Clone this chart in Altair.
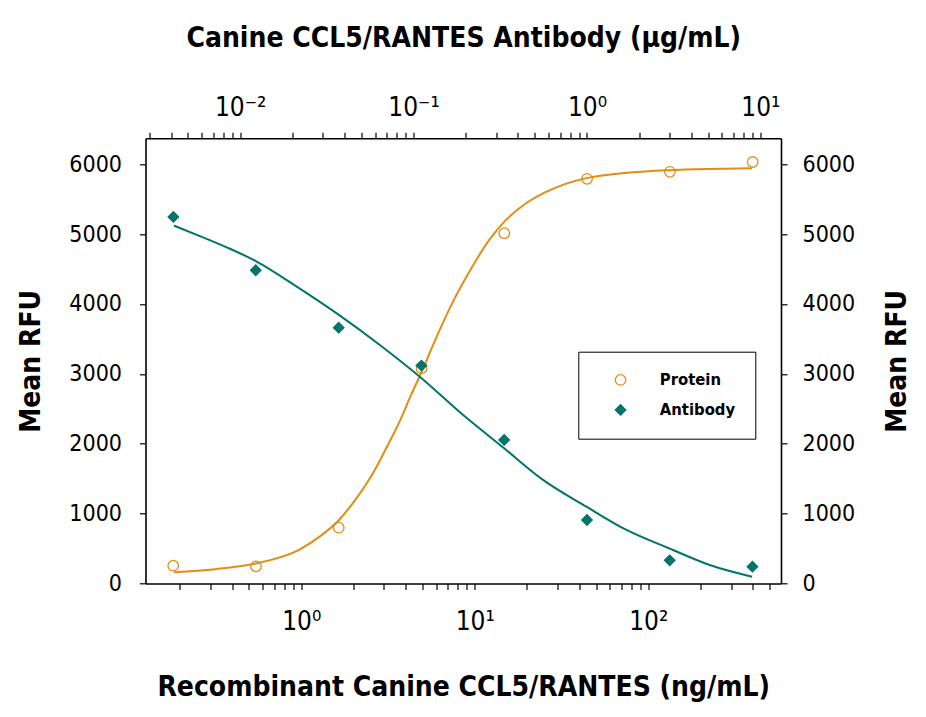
import altair as alt
import pandas as pd

# ---- data ----
protein_conc = [0.183, 0.549, 1.646, 4.94, 14.8, 44.4, 133.3, 400.0]
protein_rfu = [255, 246, 799, 3080, 5012, 5790, 5890, 6031]
antibody_conc = [0.00412, 0.0123, 0.037, 0.111, 0.333, 1.0, 3.0, 9.0]
antibody_rfu = [5245, 4482, 3661, 3118, 2054, 909, 332, 241]

protein_curve_conc = [0.185, 0.319, 0.554, 0.984, 1.283, 1.65, 2.07, 2.59, 3.12, 3.71,
                      4.29, 4.95, 5.61, 6.31, 7.70, 9.40, 12.25, 14.8, 19.5, 25.4,
                      33.1, 44.2, 78.5, 132, 227, 396]
protein_curve_rfu = [160, 205, 289, 490, 674, 909, 1211, 1577, 1956, 2330,
                     2694, 3030, 3348, 3640, 4090, 4480, 4930, 5178, 5430, 5595,
                     5715, 5800, 5880, 5914, 5932, 5942]
antibody_curve_conc = [0.00415, 0.00641, 0.00873, 0.01245, 0.0212, 0.0371, 0.0639, 0.1112,
                       0.185, 0.333, 0.558, 0.993, 1.69, 2.97, 5.10, 8.96]
antibody_curve_rfu = [5121, 4930, 4790, 4606, 4248, 3843, 3413, 2937,
                      2450, 1935, 1482, 1099, 766, 504, 265, 97]

series_names = ["Protein", "Antibody"]
bottom_ticks = [0.2, 0.3, 0.4, 0.5, 0.6, 0.7, 0.8, 0.9,
                1, 2, 3, 4, 5, 6, 7, 8, 9,
                10, 20, 30, 40, 50, 60, 70, 80, 90,
                100, 200, 300, 400, 500]
top_ticks = [0.003, 0.004, 0.005, 0.006, 0.007, 0.008, 0.009,
             0.01, 0.02, 0.03, 0.04, 0.05, 0.06, 0.07, 0.08, 0.09,
             0.1, 0.2, 0.3, 0.4, 0.5, 0.6, 0.7, 0.8, 0.9,
             1, 2, 3, 4, 5, 6, 7, 8, 9, 10]
y_ticks = [0, 1000, 2000, 3000, 4000, 5000, 6000]

bottom_domain = [0.1267, 582]
top_domain = [0.002845, 13.15]
y_domain = [0, 6370]

ORANGE = "#E38D14"
TEAL = "#00756C"
FONT = "'Liberation Sans Narrow', 'DejaVu Sans Condensed', 'Roboto Condensed', 'Noto Sans', sans-serif"

W, H = 635.5, 445.2

dfp = pd.DataFrame({"conc": protein_conc, "rfu": protein_rfu, "series": "Protein"})
dfa = pd.DataFrame({"conc": antibody_conc, "rfu": antibody_rfu, "series": "Antibody"})
dfpc = pd.DataFrame({"conc": protein_curve_conc, "rfu": protein_curve_rfu})
dfac = pd.DataFrame({"conc": antibody_curve_conc, "rfu": antibody_curve_rfu})

common_axis = dict(grid=False, tickSize=6, tickWidth=1.2, tickColor="black",
                   domainColor="black", domainWidth=1.6,
                   labelFont=FONT, labelColor="black",
                   titleFont=FONT, titleFontSize=28, titleFontWeight="bold",
                   titleColor="black", labelOverlap=False, labelFlush=False)

bottom_axis = alt.Axis(orient="bottom", values=bottom_ticks, labelFontSize=26,
                       labelExpr="datum.value == 1 ? '10⁰' : datum.value == 10 ? '10¹' : datum.value == 100 ? '10²' : ''",
                       title="Recombinant Canine CCL5/RANTES (ng/mL)",
                       labelPadding=19, titleX=W / 2, titleY=104, titleAlign="center",
                       titleBaseline="middle", **common_axis)
top_axis = alt.Axis(orient="top", values=top_ticks, labelFontSize=26,
                    labelExpr="datum.value == 0.01 ? '10⁻²' : datum.value == 0.1 ? '10⁻¹' : datum.value == 1 ? '10⁰' : datum.value == 10 ? '10¹' : ''",
                    title="Canine CCL5/RANTES Antibody (μg/mL)",
                    labelPadding=12, titleX=W / 2, titleY=-100, titleAlign="center",
                    titleBaseline="middle", **common_axis)
left_axis = alt.Axis(orient="left", values=y_ticks, title="Mean RFU", format="d",
                     labelFontSize=23,
                     labelPadding=18, titleX=-114, titleY=H / 2, titleAngle=270,
                     titleAlign="center", titleBaseline="middle", **common_axis)
right_axis = alt.Axis(orient="right", values=y_ticks, title="Mean RFU", format="d",
                      labelFontSize=23,
                      labelPadding=15, titleX=116, titleY=H / 2, titleAngle=270,
                      titleAlign="center", titleBaseline="middle", **common_axis)

xs_bottom = alt.Scale(type="log", domain=bottom_domain, nice=False)
xs_top = alt.Scale(type="log", domain=top_domain, nice=False)
ys = alt.Scale(domain=y_domain, nice=False, zero=False)

legend = alt.Legend(title=None, orient="none", legendX=432.8, legendY=213.4,
                    strokeColor="black", fillColor="white", padding=20,
                    symbolOffset=14, labelOffset=31, rowPadding=13,
                    labelFont=FONT, labelFontSize=16.5, labelFontWeight="bold",
                    labelColor="black", symbolSize=110, symbolStrokeWidth=1.3)
stroke_enc = alt.Stroke("series:N", scale=alt.Scale(domain=series_names, range=[ORANGE, TEAL]), legend=legend)
fill_enc = alt.Fill("series:N", scale=alt.Scale(domain=series_names, range=["transparent", TEAL]), legend=legend)
shape_enc = alt.Shape("series:N", scale=alt.Scale(domain=series_names, range=["circle", "diamond"]), legend=legend)

p_line = alt.Chart(dfpc).mark_line(color=ORANGE, strokeWidth=2, interpolate="monotone").encode(
    x=alt.X("conc:Q", scale=xs_bottom, axis=bottom_axis),
    y=alt.Y("rfu:Q", scale=ys, axis=left_axis),
)
p_pts = alt.Chart(dfp).mark_point(size=110, strokeWidth=1.3, opacity=1).encode(
    x=alt.X("conc:Q", scale=xs_bottom, axis=bottom_axis),
    y=alt.Y("rfu:Q", scale=ys, axis=left_axis),
    stroke=stroke_enc, fill=fill_enc, shape=shape_enc,
)
a_line = alt.Chart(dfac).mark_line(color=TEAL, strokeWidth=2, interpolate="monotone").encode(
    x=alt.X("conc:Q", scale=xs_top, axis=top_axis),
    y=alt.Y("rfu:Q", scale=ys, axis=right_axis),
)
a_pts = alt.Chart(dfa).mark_point(size=110, strokeWidth=1.3, opacity=1).encode(
    x=alt.X("conc:Q", scale=xs_top, axis=top_axis),
    y=alt.Y("rfu:Q", scale=ys, axis=right_axis),
    stroke=stroke_enc, fill=fill_enc, shape=shape_enc,
)

chart = alt.layer(
    alt.layer(p_line, p_pts),
    alt.layer(a_line, a_pts),
).resolve_scale(x="independent", y="independent").properties(
    width=W, height=H,
    autosize=alt.AutoSizeParams(type="none"),
    padding={"left": 137.5, "top": 130.3, "right": 137, "bottom": 124},
    background="white",
).configure_view(stroke=None)

chart.save("out.html", embed_options={"renderer": "svg", "actions": False})
